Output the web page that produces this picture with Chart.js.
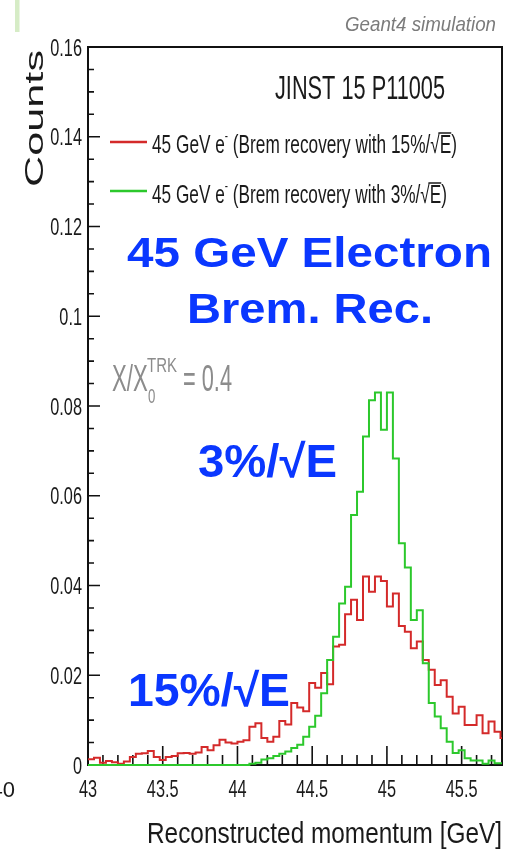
<!DOCTYPE html>
<html lang="en">
<head>
<meta charset="UTF-8">
<title>45 GeV electron - Brem recovery</title>
<script src="https://cdn.jsdelivr.net/npm/chart.js@4.4.0/dist/chart.umd.min.js"></script>
<style>
  html, body { margin: 0; padding: 0; background: #fff; }
  #momentum { display: block; }
</style>
</head>
<body>
<canvas id="momentum" width="508" height="858"></canvas>
<script>
// histogram binning (GeV)
const binLow = 43.0;
const binWidth = 0.04;

// 45 GeV e-, brem recovery with 15%/sqrt(E)
const countsBrem15 = [
  0.0013, 0.0016, 0.0005, 0.0009, 0.0006, 0.0003, 0.0008, 0.0018, 0.0025, 0.0026,
  0.0031, 0.0018, 0.0011, 0.0018, 0.0020, 0.0026, 0.0027, 0.0025, 0.0028, 0.0040,
  0.0033, 0.0044, 0.0056, 0.0050, 0.0048, 0.0052, 0.0055, 0.0085, 0.0093, 0.0060,
  0.0052, 0.0063, 0.0098, 0.0090, 0.0138, 0.0128, 0.0120, 0.0183, 0.0172, 0.0205,
  0.0180, 0.0264, 0.0268, 0.0336, 0.0368, 0.0323, 0.0420, 0.0386, 0.0420, 0.0410,
  0.0353, 0.0382, 0.0310, 0.0297, 0.0260, 0.0275, 0.0234, 0.0212, 0.0178, 0.0189,
  0.0152, 0.0115, 0.0130, 0.0089, 0.0089, 0.0111, 0.0071, 0.0097, 0.0074, 0.0060
];

// 45 GeV e-, brem recovery with 3%/sqrt(E)
const countsBrem3 = [
  0, 0, 0, 0, 0, 0, 0, 0, 0, 0,
  0, 0, 0, 0, 0, 0, 0, 0, 0, 0,
  0, 0, 0, 0, 0, 0, 0, 0.0003, 0.0005, 0.0012,
  0.0015, 0.0020, 0.0025, 0.0030, 0.0038, 0.0045, 0.0063, 0.0085, 0.0110, 0.0160,
  0.0234, 0.0286, 0.0360, 0.0397, 0.0557, 0.0609, 0.0732, 0.0813, 0.0830, 0.0747,
  0.0830, 0.0683, 0.0494, 0.0440, 0.0323, 0.0345, 0.0227, 0.0138, 0.0108, 0.0082,
  0.0052, 0.0027, 0.0033, 0.0015, 0.0010, 0.0010, 0.0003, 0.0010, 0.0004, 0.0004
];

const xTicks = [43, 43.5, 44, 44.5, 45, 45.5];
const xTickLabels = ['43', '43.5', '44', '44.5', '45', '45.5'];
const yTicks = [0, 0.02, 0.04, 0.06, 0.08, 0.1, 0.12, 0.14, 0.16];
const yTickLabels = ['0', '0.02', '0.04', '0.06', '0.08', '0.1', '0.12', '0.14', '0.16'];
const legendResolutions = ['15%', '3%'];

const FAM = '"Liberation Sans", Arial, Helvetica, sans-serif';
const RED = '#d42a2a';
const GREEN = '#2cc82c';
const BLUE = '#0a37ff';

// left bin edges plus the closing edge, for a stepped outline
function histSteps(counts) {
  const pts = counts.map((c, i) => ({ x: binLow + i * binWidth, y: c }));
  pts.push({ x: binLow + counts.length * binWidth, y: counts[counts.length - 1] });
  return pts;
}

// ROOT-ish narrow text: squeeze horizontally
function squeeze(ctx, str, x, y, font, sx, align, color) {
  ctx.save();
  ctx.font = font;
  ctx.fillStyle = color;
  ctx.textAlign = align || 'left';
  ctx.textBaseline = 'alphabetic';
  ctx.translate(x, y);
  ctx.scale(sx, 1);
  ctx.fillText(str, 0, 0);
  ctx.restore();
}

function fitWidth(ctx, str, x, y, font, width, align, color) {
  ctx.font = font;
  const sx = width / ctx.measureText(str).width;
  squeeze(ctx, str, x, y, font, sx, align, color);
}

// one legend row: text runs with a superscript and an overlined E
function legendRow(ctx, res, x, y, width) {
  const runs = [
    { t: '45 GeV e', size: 25 },
    { t: '-', size: 14, dy: -12 },
    { t: ' (Brem recovery with ' + res + '/', size: 25 },
    { t: '\u221A', size: 25 },
    { t: 'E', size: 25, over: true },
    { t: ')', size: 25 }
  ];
  let total = 0;
  runs.forEach(r => { ctx.font = r.size + 'px ' + FAM; r.w = ctx.measureText(r.t).width; total += r.w; });
  const sx = width / total;
  ctx.save();
  ctx.translate(x, y);
  ctx.scale(sx, 1);
  ctx.fillStyle = '#1a1a1a';
  ctx.strokeStyle = '#1a1a1a';
  ctx.lineWidth = 1.5;
  let cx = 0;
  runs.forEach(r => {
    ctx.font = r.size + 'px ' + FAM;
    ctx.fillText(r.t, cx, r.dy || 0);
    if (r.over) {
      ctx.beginPath();
      ctx.moveTo(cx - 2, -20);
      ctx.lineTo(cx + r.w, -20);
      ctx.stroke();
    }
    cx += r.w;
  });
  ctx.restore();
}

const rootFrame = {
  id: 'rootFrame',
  beforeDatasetsDraw(chart) {
    const { ctx, chartArea: a, scales: { x, y } } = chart;
    ctx.save();
    ctx.strokeStyle = '#111';
    ctx.lineWidth = 2;
    ctx.strokeRect(a.left, a.top, a.right - a.left, a.bottom - a.top);
    ctx.lineWidth = 1.6;
    ctx.beginPath();
    // x ticks every 0.1 GeV, long ones at 0.5
    for (let k = 0; k <= 27; k++) {
      const px = x.getPixelForValue(43 + k * 0.1);
      const len = k % 5 === 0 ? 19 : 10;
      ctx.moveTo(px, a.bottom);
      ctx.lineTo(px, a.bottom - len);
    }
    // y ticks every 0.005
    for (let k = 0; k <= 32; k++) {
      const py = y.getPixelForValue(k * 0.005);
      const len = k % 4 === 0 ? 12 : 6;
      ctx.moveTo(a.left, py);
      ctx.lineTo(a.left + len, py);
    }
    ctx.stroke();
    ctx.restore();
  },
  afterDatasetsDraw(chart) {
    const { ctx, chartArea: a, scales: { x, y } } = chart;
    const ink = '#1a1a1a';

    // corner strip
    ctx.fillStyle = '#d6ecc6';
    ctx.fillRect(15, 0, 4.5, 32);

    // tick labels
    yTicks.forEach((v, i) => {
      const py = y.getPixelForValue(v);
      squeeze(ctx, yTickLabels[i], a.left - 6, py + 8.5, '24px ' + FAM, 0.68, 'right', ink);
    });
    xTicks.forEach((v, i) => {
      const px = x.getPixelForValue(v);
      squeeze(ctx, xTickLabels[i], px, 797, '24px ' + FAM, 0.68, 'center', ink);
    });
    squeeze(ctx, '40', 15, 797, '22px ' + FAM, 1, 'right', ink);

    // axis titles
    fitWidth(ctx, 'Reconstructed momentum [GeV]', a.right, 843, '29px ' + FAM, 355, 'right', ink);
    ctx.save();
    ctx.translate(43, 118.5);
    ctx.rotate(-Math.PI / 2);
    fitWidth(ctx, 'Counts', 0, 0, '25px ' + FAM, 137, 'center', ink);
    ctx.restore();

    fitWidth(ctx, 'Geant4 simulation', 496, 31, 'italic 21px ' + FAM, 151, 'right', '#7b7b7b');
    fitWidth(ctx, 'JINST 15 P11005', 275, 99, '34px ' + FAM, 170, 'left', ink);

    // legend
    const rows = [{ y: 142, base: 153, w: 305 }, { y: 191, base: 203, w: 295 }];
    const dsOrder = [chart.data.datasets[0], chart.data.datasets[1]];
    rows.forEach((r, i) => {
      ctx.save();
      ctx.strokeStyle = dsOrder[i].borderColor;
      ctx.lineWidth = 2.5;
      ctx.beginPath();
      ctx.moveTo(110, r.y);
      ctx.lineTo(147, r.y);
      ctx.stroke();
      ctx.restore();
      legendRow(ctx, legendResolutions[i], 152, r.base, r.w);
    });

    // material budget
    const grey = '#8c8c8c';
    squeeze(ctx, 'X/X', 112, 391, '37px ' + FAM, 0.6, 'left', grey);
    squeeze(ctx, 'TRK', 147, 372, '20px ' + FAM, 0.75, 'left', grey);
    squeeze(ctx, '0', 148, 403, '20px ' + FAM, 0.66, 'left', grey);
    fitWidth(ctx, '= 0.4', 183, 391, '37px ' + FAM, 49, 'left', grey);

    // annotations
    fitWidth(ctx, '45 GeV Electron', 309.5, 267, 'bold 42px ' + FAM, 365, 'center', BLUE);
    fitWidth(ctx, 'Brem. Rec.', 310, 323, 'bold 42px ' + FAM, 246, 'center', BLUE);
    fitWidth(ctx, '3%/\u221AE', 198, 477, 'bold 46px ' + FAM, 139, 'left', BLUE);
    fitWidth(ctx, '15%/\u221AE', 128, 706, 'bold 46px ' + FAM, 162, 'left', BLUE);
  }
};

new Chart(document.getElementById('momentum'), {
  type: 'line',
  data: {
    datasets: [
      {
        label: '45 GeV e- (Brem recovery with 15%/sqrt(E))',
        data: histSteps(countsBrem15),
        borderColor: RED,
        borderWidth: 2,
        stepped: true,
        pointRadius: 0,
        fill: false,
        order: 1,
        clip: { left: 2, top: 2, right: 0, bottom: 3 }
      },
      {
        label: '45 GeV e- (Brem recovery with 3%/sqrt(E))',
        data: histSteps(countsBrem3),
        borderColor: GREEN,
        borderWidth: 2,
        stepped: true,
        pointRadius: 0,
        fill: false,
        order: 0,
        clip: { left: 2, top: 2, right: 0, bottom: 3 }
      }
    ]
  },
  options: {
    responsive: false,
    animation: false,
    devicePixelRatio: 1,
    layout: { padding: { left: 88, top: 47, right: 6, bottom: 93 } },
    scales: {
      x: { type: 'linear', min: 43, max: 45.77, display: false },
      y: { type: 'linear', min: 0, max: 0.16, display: false }
    },
    plugins: {
      legend: { display: false },
      tooltip: { enabled: false }
    }
  },
  plugins: [rootFrame]
});
</script>
</body>
</html>
